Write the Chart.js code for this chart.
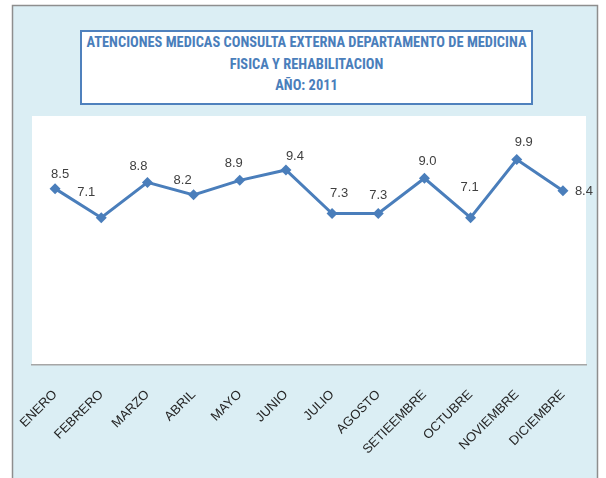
<!DOCTYPE html>
<html>
<head>
<meta charset="utf-8">
<script src="https://cdn.jsdelivr.net/npm/chart.js@4/dist/chart.umd.min.js"></script>
<style>
  html, body { margin: 0; padding: 0; background: #ffffff; }
  #wrap { position: relative; width: 606px; height: 478px; overflow: hidden; }
  #c { position: absolute; left: 0; top: 0; }
  #title {
    position: absolute; left: 80px; top: 30px; width: 449px; height: 71px;
    border: 2px solid #4F81BD; background: #ffffff; color: #4A7EBB;
    font-family: "Roboto Condensed", "Liberation Sans Narrow", sans-serif;
    font-weight: bold; font-size: 14.4px; line-height: 21.5px; text-align: center;
    padding-top: 0px; box-sizing: content-box; white-space: nowrap;
  }
</style>
</head>
<body>
<div id="wrap">
  <canvas id="c" width="606" height="478"></canvas>
  <div id="title">ATENCIONES MEDICAS CONSULTA EXTERNA DEPARTAMENTO DE MEDICINA<br>FISICA Y REHABILITACION<br>AÑO: 2011</div>
</div>
<script>
const categories = ["ENERO","FEBRERO","MARZO","ABRIL","MAYO","JUNIO","JULIO","AGOSTO","SETIEEMBRE","OCTUBRE","NOVIEMBRE","DICIEMBRE"];
const values = [8.5, 7.1, 8.8, 8.2, 8.9, 9.4, 7.3, 7.3, 9.0, 7.1, 9.9, 8.4];
const yMin = 0;
const yMax = 12;

const FONT = '"Liberation Sans", Arial, sans-serif';

const bgPlugin = {
  id: 'bg',
  beforeDraw(chart) {
    const ctx = chart.ctx;
    const a = chart.chartArea;
    ctx.save();
    ctx.fillStyle = '#ffffff';
    ctx.fillRect(0, 0, chart.width, chart.height);
    ctx.fillStyle = '#DBEEF4';
    ctx.fillRect(12, 5, 586, 480);
    ctx.strokeStyle = '#8E8E8E';
    ctx.lineWidth = 1.5;
    ctx.strokeRect(12.5, 5.5, 585, 480);
    ctx.fillStyle = '#ffffff';
    ctx.fillRect(a.left, a.top, a.right - a.left, a.bottom - a.top);
    ctx.restore();
  }
};

const labelPlugin = {
  id: 'ptLabels',
  afterDatasetsDraw(chart, args, opts) {
    const ctx = chart.ctx;
    const meta = chart.getDatasetMeta(0);
    ctx.save();
    ctx.font = '13px ' + FONT;
    ctx.fillStyle = '#404040';
    ctx.textAlign = 'center';
    ctx.textBaseline = 'middle';
    meta.data.forEach((pt, i) => {
      const off = opts.offsets[i] || [0, -15];
      ctx.fillText(values[i].toFixed(1), pt.x + off[0], pt.y + off[1]);
    });
    ctx.restore();
  }
};

new Chart(document.getElementById('c'), {
  type: 'line',
  data: {
    labels: categories,
    datasets: [{
      data: values,
      borderColor: '#4A7EBB',
      backgroundColor: '#4A7EBB',
      borderWidth: 3,
      pointStyle: 'rectRot',
      pointRadius: 5.5,
      pointBorderWidth: 0,
      tension: 0,
      fill: false
    }]
  },
  options: {
    responsive: false,
    animation: false,
    layout: { padding: { left: 32, right: 20, top: 116, bottom: 0 } },
    plugins: {
      legend: { display: false },
      tooltip: { enabled: false },
      title: { display: false },
      ptLabels: {
        offsets: [[5,-14],[-15,-25],[-9,-16],[-11,-14],[-6,-17],[9,-14],[7,-20],[0,-18],[3,-17],[-1,-30],[7,-17],[21,1]]
      }
    },
    scales: {
      x: {
        offset: true,
        grid: { display: false, drawTicks: false },
        border: { display: true, color: '#A6A6A6', width: 1.5 },
        ticks: {
          color: '#262626',
          font: { family: FONT, size: 13 },
          maxRotation: 45,
          minRotation: 45,
          padding: 22,
          autoSkip: false
        },
        afterFit(scale) {
          scale.height = 113;
          scale.paddingLeft = 0;
          scale.paddingRight = 0;
        }
      },
      y: {
        display: false,
        min: yMin,
        max: yMax
      }
    }
  },
  plugins: [bgPlugin, labelPlugin]
});
</script>
</body>
</html>
